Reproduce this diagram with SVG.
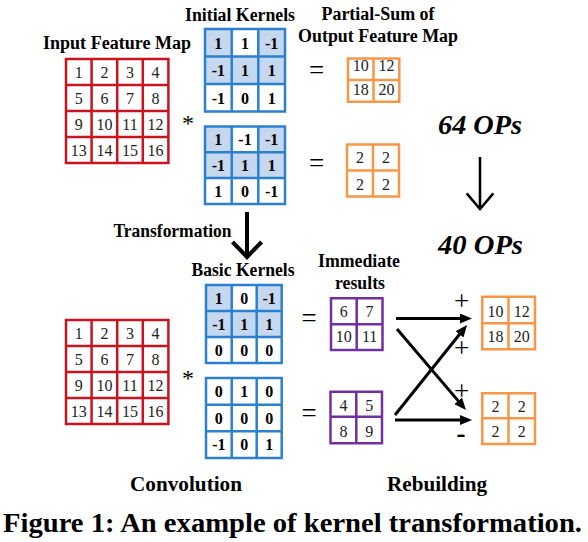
<svg xmlns="http://www.w3.org/2000/svg" width="588" height="542" viewBox="0 0 588 542">
<style>
.lbl{font-family:"Liberation Serif",Tinos,"Times New Roman","DejaVu Serif",serif;font-weight:bold;font-size:18px;fill:#000;text-anchor:middle}
.num{font-family:"Liberation Serif",Tinos,"Times New Roman","DejaVu Serif",serif;font-size:16px;fill:#222;text-anchor:middle}
.kn{font-family:"Liberation Serif",Tinos,"Times New Roman","DejaVu Serif",serif;font-weight:bold;font-size:16px;fill:#000;text-anchor:middle}
.ops{font-family:"Liberation Serif",Tinos,"Times New Roman","DejaVu Serif",serif;font-weight:bold;font-style:italic;font-size:27px;fill:#000}
.sym{font-family:"Liberation Serif",Tinos,"Times New Roman","DejaVu Serif",serif;font-size:27px;fill:#000;text-anchor:middle}
.cap{font-family:"Liberation Serif",Tinos,"Times New Roman","DejaVu Serif",serif;font-weight:bold;font-size:27px;fill:#000}
.red{fill:none;stroke:#c9141f;stroke-width:2.5}
.blue{fill:none;stroke:#2b80cf;stroke-width:2.5}
.org{fill:none;stroke:#f79646;stroke-width:2.5}
.pur{fill:none;stroke:#7030a0;stroke-width:2.5}
.sh{fill:#c5d8ef}
.arr{stroke:#000;stroke-width:3;fill:none;marker-end:url(#ah)}
.big{stroke:#000;fill:none;stroke-linecap:butt;stroke-linejoin:miter}
</style>
<defs>
<marker id="ah" viewBox="0 0 12 10" refX="2" refY="5" markerWidth="12" markerHeight="10" markerUnits="userSpaceOnUse" orient="auto">
<path d="M0,0 L12,5 L0,10 z" fill="#000"/>
</marker>
</defs>
<rect width="588" height="542" fill="#fff"/>

<!-- labels -->
<g id="labels">
<text class="lbl" x="117" y="48.5" textLength="148" lengthAdjust="spacingAndGlyphs">Input Feature Map</text>
<text class="lbl" x="240" y="20.5" textLength="110" lengthAdjust="spacingAndGlyphs">Initial Kernels</text>
<text class="lbl" x="378" y="20" textLength="113" lengthAdjust="spacingAndGlyphs">Partial-Sum of</text>
<text class="lbl" x="378" y="42" textLength="160" lengthAdjust="spacingAndGlyphs">Output Feature Map</text>
<text class="lbl" x="172.5" y="237" textLength="118" lengthAdjust="spacingAndGlyphs">Transformation</text>
<text class="lbl" x="243" y="276" textLength="103" lengthAdjust="spacingAndGlyphs">Basic Kernels</text>
<text class="lbl" x="359" y="267" textLength="82" lengthAdjust="spacingAndGlyphs">Immediate</text>
<text class="lbl" x="360" y="289" textLength="50" lengthAdjust="spacingAndGlyphs">results</text>
<text class="lbl" x="186" y="491" style="font-size:21px" textLength="112" lengthAdjust="spacingAndGlyphs">Convolution</text>
<text class="lbl" x="437" y="491" style="font-size:21px" textLength="100" lengthAdjust="spacingAndGlyphs">Rebuilding</text>
<text class="ops" x="438" y="134" textLength="84" lengthAdjust="spacingAndGlyphs">64 OPs</text>
<text class="ops" x="438" y="254" textLength="85" lengthAdjust="spacingAndGlyphs">40 OPs</text>
<text class="cap" x="3" y="532" textLength="579" lengthAdjust="spacingAndGlyphs">Figure 1: An example of kernel transformation.</text>
</g>

<!-- input feature map (top) -->
<g id="input-top">
<path class="red" d="M66,59H168.4V163H66Z M91.6,59V163 M117.2,59V163 M142.8,59V163 M66,85H168.4 M66,111H168.4 M66,137H168.4"/>
<text class="num" x="78.8" y="77.5">1</text><text class="num" x="104.4" y="77.5">2</text><text class="num" x="130" y="77.5">3</text><text class="num" x="155.6" y="77.5">4</text>
<text class="num" x="78.8" y="103.5">5</text><text class="num" x="104.4" y="103.5">6</text><text class="num" x="130" y="103.5">7</text><text class="num" x="155.6" y="103.5">8</text>
<text class="num" x="78.8" y="129.5">9</text><text class="num" x="104.4" y="129.5">10</text><text class="num" x="130" y="129.5">11</text><text class="num" x="155.6" y="129.5">12</text>
<text class="num" x="78.8" y="155.5">13</text><text class="num" x="104.4" y="155.5">14</text><text class="num" x="130" y="155.5">15</text><text class="num" x="155.6" y="155.5">16</text>
</g>

<!-- input feature map (bottom) -->
<g id="input-bottom">
<path class="red" d="M66,320H168.4V424H66Z M91.6,320V424 M117.2,320V424 M142.8,320V424 M66,346H168.4 M66,372H168.4 M66,398H168.4"/>
<text class="num" x="78.8" y="338.5">1</text><text class="num" x="104.4" y="338.5">2</text><text class="num" x="130" y="338.5">3</text><text class="num" x="155.6" y="338.5">4</text>
<text class="num" x="78.8" y="364.5">5</text><text class="num" x="104.4" y="364.5">6</text><text class="num" x="130" y="364.5">7</text><text class="num" x="155.6" y="364.5">8</text>
<text class="num" x="78.8" y="390.5">9</text><text class="num" x="104.4" y="390.5">10</text><text class="num" x="130" y="390.5">11</text><text class="num" x="155.6" y="390.5">12</text>
<text class="num" x="78.8" y="416.5">13</text><text class="num" x="104.4" y="416.5">14</text><text class="num" x="130" y="416.5">15</text><text class="num" x="155.6" y="416.5">16</text>
</g>

<g id="stars">
<text class="sym" x="188" y="131" style="font-size:24px">*</text>
<text class="sym" x="188" y="386" style="font-size:24px">*</text>
</g>

<!-- initial kernel 1 -->
<g id="kernel-init-1">
<rect class="sh" x="205" y="29" width="26.7" height="27.5"/>
<rect class="sh" x="258.3" y="29" width="26.7" height="27.5"/>
<rect class="sh" x="205" y="56.5" width="80" height="27.5"/>
<path class="blue" d="M205,29H285V111.5H205Z M231.7,29V111.5 M258.3,29V111.5 M205,56.5H285 M205,84H285"/>
<text class="kn" x="218.3" y="48.5">1</text><text class="kn" x="245" y="48.5">1</text><text class="kn" x="271.7" y="48.5">-1</text>
<text class="kn" x="218.3" y="76">-1</text><text class="kn" x="245" y="76">1</text><text class="kn" x="271.7" y="76">1</text>
<text class="kn" x="218.3" y="103.5">-1</text><text class="kn" x="245" y="103.5">0</text><text class="kn" x="271.7" y="103.5">1</text>
</g>

<!-- initial kernel 2 -->
<g id="kernel-init-2">
<rect class="sh" x="205" y="126.5" width="26.7" height="25.8"/>
<rect class="sh" x="258.3" y="126.5" width="26.7" height="25.8"/>
<rect class="sh" x="205" y="152.3" width="80" height="25.8"/>
<path class="blue" d="M205,126.5H285V204H205Z M231.7,126.5V204 M258.3,126.5V204 M205,152.3H285 M205,178.1H285"/>
<text class="kn" x="218.3" y="145">1</text><text class="kn" x="245" y="145">-1</text><text class="kn" x="271.7" y="145">-1</text>
<text class="kn" x="218.3" y="171">-1</text><text class="kn" x="245" y="171">1</text><text class="kn" x="271.7" y="171">1</text>
<text class="kn" x="218.3" y="196.5">1</text><text class="kn" x="245" y="196.5">0</text><text class="kn" x="271.7" y="196.5">-1</text>
</g>

<!-- basic kernel 1 -->
<g id="kernel-basic-1">
<rect class="sh" x="206" y="285" width="25.7" height="26"/>
<rect class="sh" x="256.7" y="285" width="25" height="26"/>
<rect class="sh" x="206" y="311" width="75.7" height="26"/>
<path class="blue" d="M206,285H281.7V363H206Z M231.7,285V363 M256.7,285V363 M206,311H281.7 M206,337H281.7"/>
<text class="kn" x="218.8" y="303.5">1</text><text class="kn" x="244.2" y="303.5">0</text><text class="kn" x="269.2" y="303.5">-1</text>
<text class="kn" x="218.8" y="329.5">-1</text><text class="kn" x="244.2" y="329.5">1</text><text class="kn" x="269.2" y="329.5">1</text>
<text class="kn" x="218.8" y="355.5">0</text><text class="kn" x="244.2" y="355.5">0</text><text class="kn" x="269.2" y="355.5">0</text>
</g>

<!-- basic kernel 2 -->
<g id="kernel-basic-2">
<path class="blue" d="M206,378H281.7V458H206Z M231.7,378V458 M256.7,378V458 M206,404.7H281.7 M206,431.3H281.7"/>
<text class="kn" x="218.8" y="397">0</text><text class="kn" x="244.2" y="397">1</text><text class="kn" x="269.2" y="397">0</text>
<text class="kn" x="218.8" y="423.5">0</text><text class="kn" x="244.2" y="423.5">0</text><text class="kn" x="269.2" y="423.5">0</text>
<text class="kn" x="218.8" y="450">-1</text><text class="kn" x="244.2" y="450">0</text><text class="kn" x="269.2" y="450">1</text>
</g>

<g id="equals">
<text class="sym" x="316.7" y="78.5">=</text>
<text class="sym" x="316.7" y="172">=</text>
<text class="sym" x="309" y="327">=</text>
<text class="sym" x="309" y="421.5">=</text>
</g>

<!-- partial sums -->
<g id="psum-1">
<path class="org" d="M348,58.5H399.3V101.7H348Z M373.5,58.5V101.7 M348,80H399.3"/>
<text class="num" x="360.8" y="71">10</text><text class="num" x="386.4" y="71">12</text>
<text class="num" x="360.8" y="95">18</text><text class="num" x="386.4" y="95">20</text>
</g>
<g id="psum-2">
<path class="org" d="M347,144.5H399V196.5H347Z M373,144.5V196.5 M347,170.5H399"/>
<text class="num" x="360" y="163">2</text><text class="num" x="386" y="163">2</text>
<text class="num" x="360" y="189.5">2</text><text class="num" x="386" y="189.5">2</text>
</g>

<!-- immediate results -->
<g id="imm-1">
<path class="pur" d="M331,298.3H382.5V350H331Z M356.7,298.3V350 M331,324.3H382.5"/>
<text class="num" x="343.8" y="317">6</text><text class="num" x="369.6" y="317">7</text>
<text class="num" x="343.8" y="342">10</text><text class="num" x="369.6" y="342">11</text>
</g>
<g id="imm-2">
<path class="pur" d="M330.5,391.7H382V443.3H330.5Z M356.3,391.7V443.3 M330.5,416.7H382"/>
<text class="num" x="343.4" y="410.5">4</text><text class="num" x="369.2" y="410.5">5</text>
<text class="num" x="343.4" y="437">8</text><text class="num" x="369.2" y="437">9</text>
</g>

<!-- rebuilt outputs -->
<g id="out-1">
<path class="org" d="M482.3,296.7H535V349.3H482.3Z M508.5,296.7V349.3 M482.3,323.3H535"/>
<text class="num" x="495.4" y="316.5">10</text><text class="num" x="521.8" y="316.5">12</text>
<text class="num" x="495.4" y="341.5">18</text><text class="num" x="521.8" y="341.5">20</text>
</g>
<g id="out-2">
<path class="org" d="M482.3,393.3H535V444H482.3Z M508.5,393.3V444 M482.3,418.3H535"/>
<text class="num" x="495.4" y="411.5">2</text><text class="num" x="521.8" y="411.5">2</text>
<text class="num" x="495.4" y="437">2</text><text class="num" x="521.8" y="437">2</text>
</g>

<g id="signs">
<text class="sym" x="461.7" y="310">+</text>
<text class="sym" x="461.7" y="357">+</text>
<text class="sym" x="461.7" y="400">+</text>
<text class="sym" x="461" y="442" style="font-weight:bold">-</text>
</g>

<!-- connectors -->
<g id="connectors">
<path class="big" stroke-width="4" d="M247,212V256 M232.5,242L247,257L261.5,242"/>
<path class="big" stroke-width="2.6" d="M480,157V209 M466.7,193.3L480,209L493.3,193.3"/>
<line class="arr" x1="396" y1="318.5" x2="462" y2="318.5"/>
<line class="arr" x1="397" y1="329" x2="459.5" y2="402.4"/>
<line class="arr" x1="395" y1="415" x2="460.8" y2="332.8"/>
<line class="arr" x1="395" y1="420" x2="462" y2="420"/>
</g>
</svg>
